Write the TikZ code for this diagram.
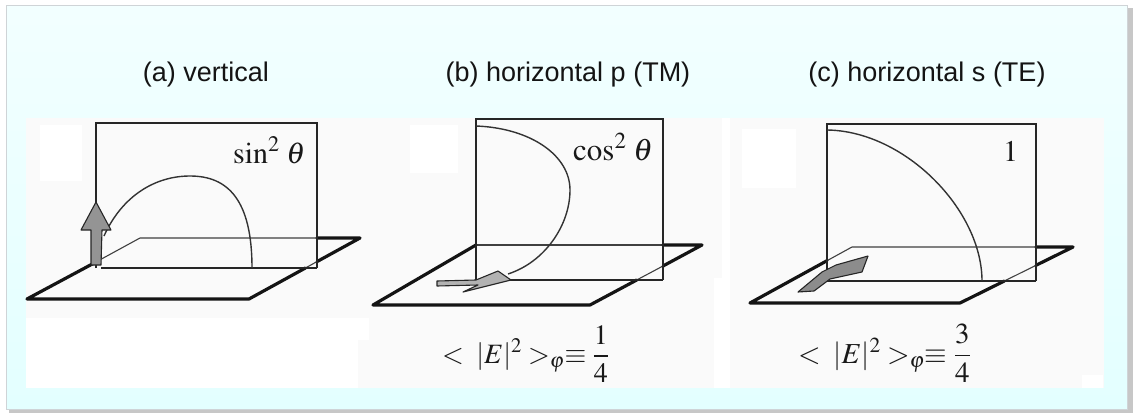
\documentclass[tikz,border=0pt]{standalone}
\usepackage{mathptmx}
\usepackage[no-math]{fontspec}
\setmainfont{Liberation Sans}
\begin{document}
\begin{tikzpicture}[x=1pt,y=-1pt,
  thinln/.style={line width=1.1pt,draw=black!75},
  thickln/.style={line width=3.2pt,draw=black!92,line cap=round,line join=round},
  planeln/.style={line width=1.5pt,draw=black!85},
  baseln/.style={line width=2pt,draw=black!85},
  curveln/.style={line width=1.4pt,draw=black!80},
  blockarrow/.style={fill=black!42,draw=black!85,line width=1.1pt,line join=round},
  title/.style={font=\fontsize{27}{31}\selectfont,anchor=base,inner sep=0pt,text=black!92},
  lbl/.style={anchor=base west,inner sep=0pt,text=black!90},
  patch/.style={fill=white},
]
\useasboundingbox (0,0) rectangle (1136,415);

% outer card with its shadow
\fill[black!22] (9,8) rectangle (1133,413);
\shade[top color=cyan!5!white,bottom color=cyan!11!white] (6,5) rectangle (1127,409);
\draw[cyan!20!black!22,line width=0.8pt] (6,5) rectangle (1127,409);

% figure area
\fill[black!2] (26,118) rectangle (1104,388);
\fill[patch] (40,125) rectangle (82,181);
\fill[patch] (26,318) rectangle (358,388);
\fill[patch] (358,318) rectangle (369,340);
\fill[patch] (410,125) rectangle (458,173);
\fill[patch] (722,118) rectangle (730,388);
\fill[patch] (714,278) rectangle (722,388);
\fill[patch] (742,129) rectangle (796,188);
\fill[patch] (1082,375) rectangle (1103,388);

% titles
\node[title] (ta) at (206,81) {(a) vertical};
\node[title] (tb) at (568,81) {(b) horizontal p (TM)};
\node[title] (tc) at (927,81) {(c) horizontal s (TE)};

% ---------- (a) vertical dipole ----------
\draw[thinln] (96,262) -- (140,238) -- (317,238);
\draw[thinln] (305.4,268) -- (317,261.6);
\draw[thickln] (96,262) -- (27,299) -- (249,299) -- (305.4,268);
\draw[thickln] (317,261.6) -- (360,238) -- (317,238);
\draw[planeln] (96,268) -- (96,123) -- (317,123) -- (317,268);
\draw[baseln] (101,268) -- (317,268);
\draw[curveln] (104,236) .. controls (122,196) and (155,176) .. (190,176)
                .. controls (228,176) and (252,200) .. (252,268);
\filldraw[blockarrow] (91,265) -- (91,230) -- (81,230) -- (96,202)
                -- (111,230) -- (102,230) -- (101,265) -- cycle;
\node[lbl,font=\fontsize{30}{36}\selectfont] (la) at (233,163) {$\sin^2\,\theta$};

% ---------- (b) horizontal p ----------
\draw[thinln] (476,245) -- (663,245);
\draw[thinln] (636.7,280) -- (663,266);
\draw[thickln] (476,245) -- (373,305) -- (590,305) -- (636.7,280);
\draw[thickln] (663,266) -- (702,245) -- (663,245);
\draw[planeln] (476,280) -- (476,119) -- (663,119) -- (663,280);
\draw[baseln] (476,280) -- (663,280);
\draw[curveln] (476,126) .. controls (530,128) and (570,155) .. (570,190)
                .. controls (570,225) and (545,262) .. (508,274);
\filldraw[blockarrow,fill=black!30] (437,281) -- (476,280) -- (498,271) -- (511,280)
                -- (463,292) -- (478,285) -- (437,286) -- cycle;
\node[lbl,font=\fontsize{31}{37}\selectfont] (lb) at (573,160) {$\cos^2\,\theta$};
\node[lbl,font=\fontsize{28}{34}\selectfont] (fb) at (442,363)
  {$<\;|E|^2>_{\varphi}\equiv{\displaystyle\frac{1}{4}}$};

% ---------- (c) horizontal s ----------
\draw[thinln] (827,260.7) -- (852,247) -- (1036,247);
\draw[thinln] (1004.4,281) -- (1036,265.3);
\draw[thickln] (827,260.7) -- (750,303) -- (960,303) -- (1004.4,281);
\draw[thickln] (1036,265.3) -- (1073,247) -- (1036,247);
\draw[planeln] (827,281) -- (827,124) -- (1036,124) -- (1036,281);
\draw[baseln] (827,281) -- (1036,281);
\draw[curveln] (827,130) .. controls (905,131) and (982,210) .. (982,281);
\filldraw[blockarrow,fill=black!45] (798,292) -- (814,291) -- (830,279) -- (862,272)
                -- (868,256) -- (836,265) -- (822,272) -- cycle;
\node[lbl,font=\fontsize{30}{36}\selectfont] (lc) at (1003,161) {$1$};
\node[lbl,font=\fontsize{29}{35}\selectfont] (fc) at (798,363)
  {$<\;|E|^2>_{\varphi}\equiv{\displaystyle\frac{3}{4}}$};
\end{tikzpicture}
\end{document}
